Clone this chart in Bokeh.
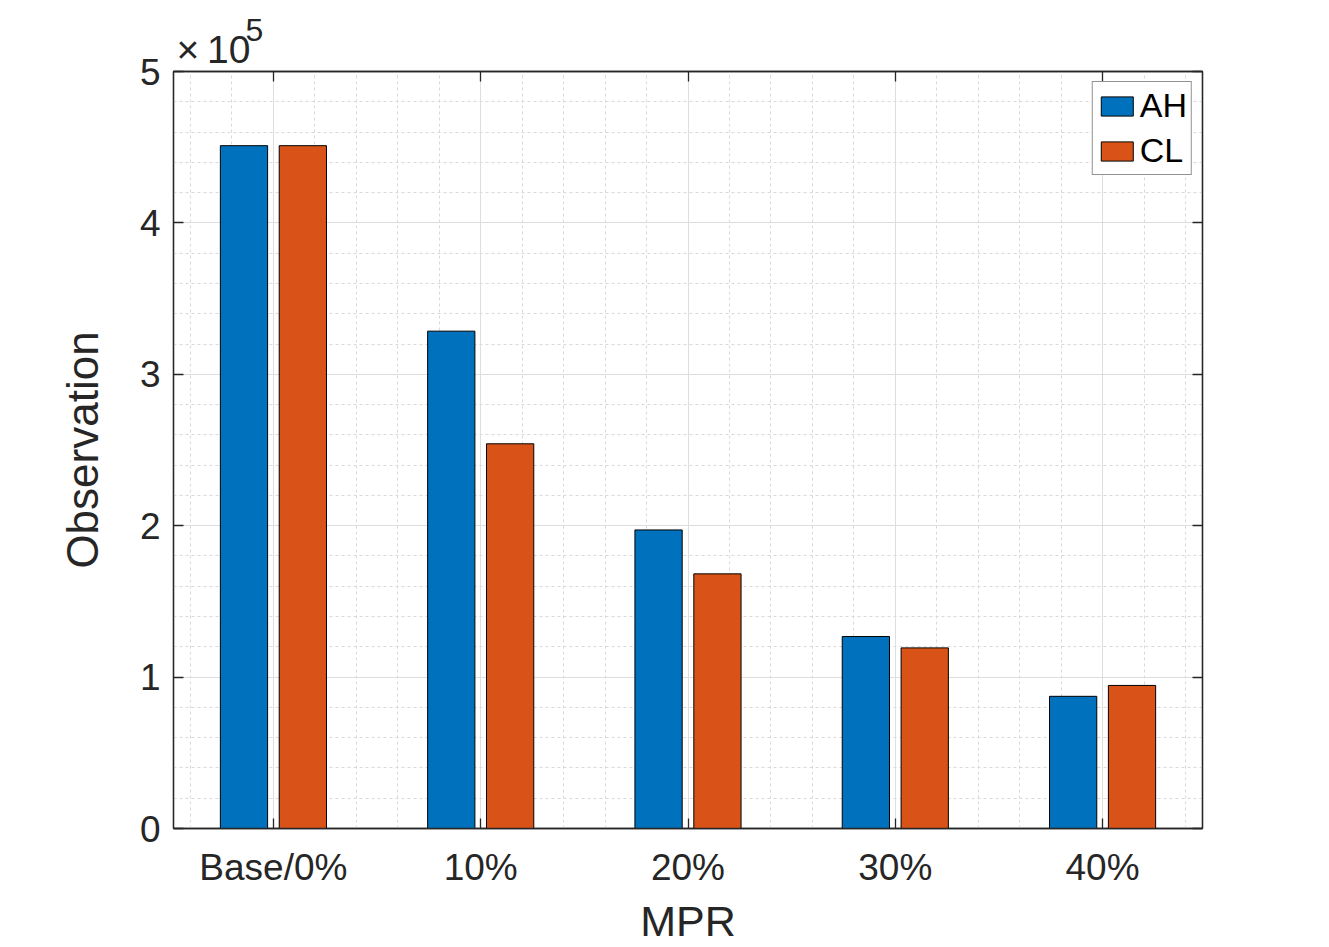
from bokeh.plotting import figure
from bokeh.models import (ColumnDataSource, Range1d, FixedTicker, LinearAxis, Title)
from bokeh.transform import dodge
from bokeh.embed import file_html
from bokeh.resources import INLINE

# ---- data ----
categories = ["Base/0%", "10%", "20%", "30%", "40%"]
ah_values = [451000, 328500, 197200, 126800, 87300]
cl_values = [451000, 254100, 168200, 119300, 94500]
y_tick_labels = ["0", "1", "2", "3", "4", "5"]
series_names = ["AH", "CL"]
exponent_base = "×\u200910"
exponent_power = "5"

FONT = "Liberation Sans"
TXT = "#262626"

xs = list(range(1, len(categories) + 1))
src = ColumnDataSource(data=dict(x=xs, ah=ah_values, cl=cl_values))

p = figure(width=1329, height=947, output_backend="svg", toolbar_location=None,
           x_range=Range1d(0.518, 5.482), y_range=Range1d(0, 500000),
           min_border_left=173, min_border_right=127, min_border_top=71, min_border_bottom=118,
           x_axis_location=None, y_axis_location=None)
p.title = None
p.background_fill_color = "white"
p.border_fill_color = "white"
p.outline_line_color = TXT
p.outline_line_width = 1.3

bw = 0.228
p.vbar(x=dodge("x", -0.142), top="ah", width=bw, source=src, fill_color="#0072BD",
       line_color="black", line_width=1, legend_label=series_names[0])
p.vbar(x=dodge("x", 0.142), top="cl", width=bw, source=src, fill_color="#D95319",
       line_color="black", line_width=1, legend_label=series_names[1])

# ticks
x_minor = [round(i * 0.2, 1) for i in range(3, 28) if i % 5 != 0]
y_major = [i * 100000 for i in range(6)]
y_minor = [i * 20000 for i in range(26) if i % 5 != 0]
xticker = FixedTicker(ticks=xs, minor_ticks=x_minor)
yticker = FixedTicker(ticks=y_major, minor_ticks=y_minor)

def style_axis(ax, show_labels):
    ax.axis_line_color = TXT
    ax.axis_line_width = 1.3
    ax.major_tick_in = 10
    ax.major_tick_out = 0
    ax.major_tick_line_color = TXT
    ax.major_tick_line_width = 1.3
    ax.minor_tick_in = 0
    ax.minor_tick_out = 0
    ax.major_label_text_font = FONT
    ax.axis_label_text_font = FONT
    ax.axis_label_text_color = TXT
    ax.axis_label_text_font_style = "normal"
    if show_labels:
        ax.major_label_text_color = TXT
        ax.major_label_text_font_size = "37px"
        ax.axis_label_text_font_size = "43px"
    else:
        ax.major_label_text_color = None
        ax.major_label_text_font_size = "1px"
        ax.major_label_standoff = 0

xb = LinearAxis(ticker=xticker, axis_label="MPR",
                major_label_overrides={x: c for x, c in zip(xs, categories)})
style_axis(xb, True)
xb.major_label_standoff = 18
xb.axis_label_standoff = 6
p.add_layout(xb, "below")

yl = LinearAxis(ticker=yticker, axis_label="Observation",
                major_label_overrides={v: t for v, t in zip(y_major, y_tick_labels)})
style_axis(yl, True)
yl.axis_label_text_font_size = "44px"
yl.major_label_standoff = 13
yl.axis_label_standoff = 30
p.add_layout(yl, "left")

xt = LinearAxis(ticker=xticker)
style_axis(xt, False)
p.add_layout(xt, "above")
yr = LinearAxis(ticker=yticker)
style_axis(yr, False)
p.add_layout(yr, "right")

# grids
for g, tk in ((p.xgrid, xticker), (p.ygrid, yticker)):
    g.ticker = tk
    g.grid_line_color = "#dedede"
    g.grid_line_width = 1
    g.minor_grid_line_color = "#d9d9d9"
    g.minor_grid_line_dash = "3 3"
    g.minor_grid_line_width = 1

# exponent label (x10^5) as two stacked titles
p.add_layout(Title(text=exponent_base, align="left", offset=3, standoff=1,
                   text_font=FONT, text_font_size="39px", text_color=TXT,
                   text_font_style="normal"), "above")
p.add_layout(Title(text=exponent_power, align="left", offset=72, standoff=-30,
                   text_font=FONT, text_font_size="32px", text_color=TXT,
                   text_font_style="normal"), "above")

# legend
lg = p.legend[0]
lg.location = "top_right"
lg.margin = 10
lg.padding = 4
lg.spacing = 6
lg.glyph_width = 40
lg.glyph_height = 24
lg.label_standoff = 3
lg.label_text_font = FONT
lg.label_text_font_size = "34px"
lg.label_text_color = "black"
lg.border_line_color = TXT
lg.border_line_width = 1
lg.background_fill_color = "white"
lg.background_fill_alpha = 1

open("out.html", "w").write(file_html(p, INLINE))
